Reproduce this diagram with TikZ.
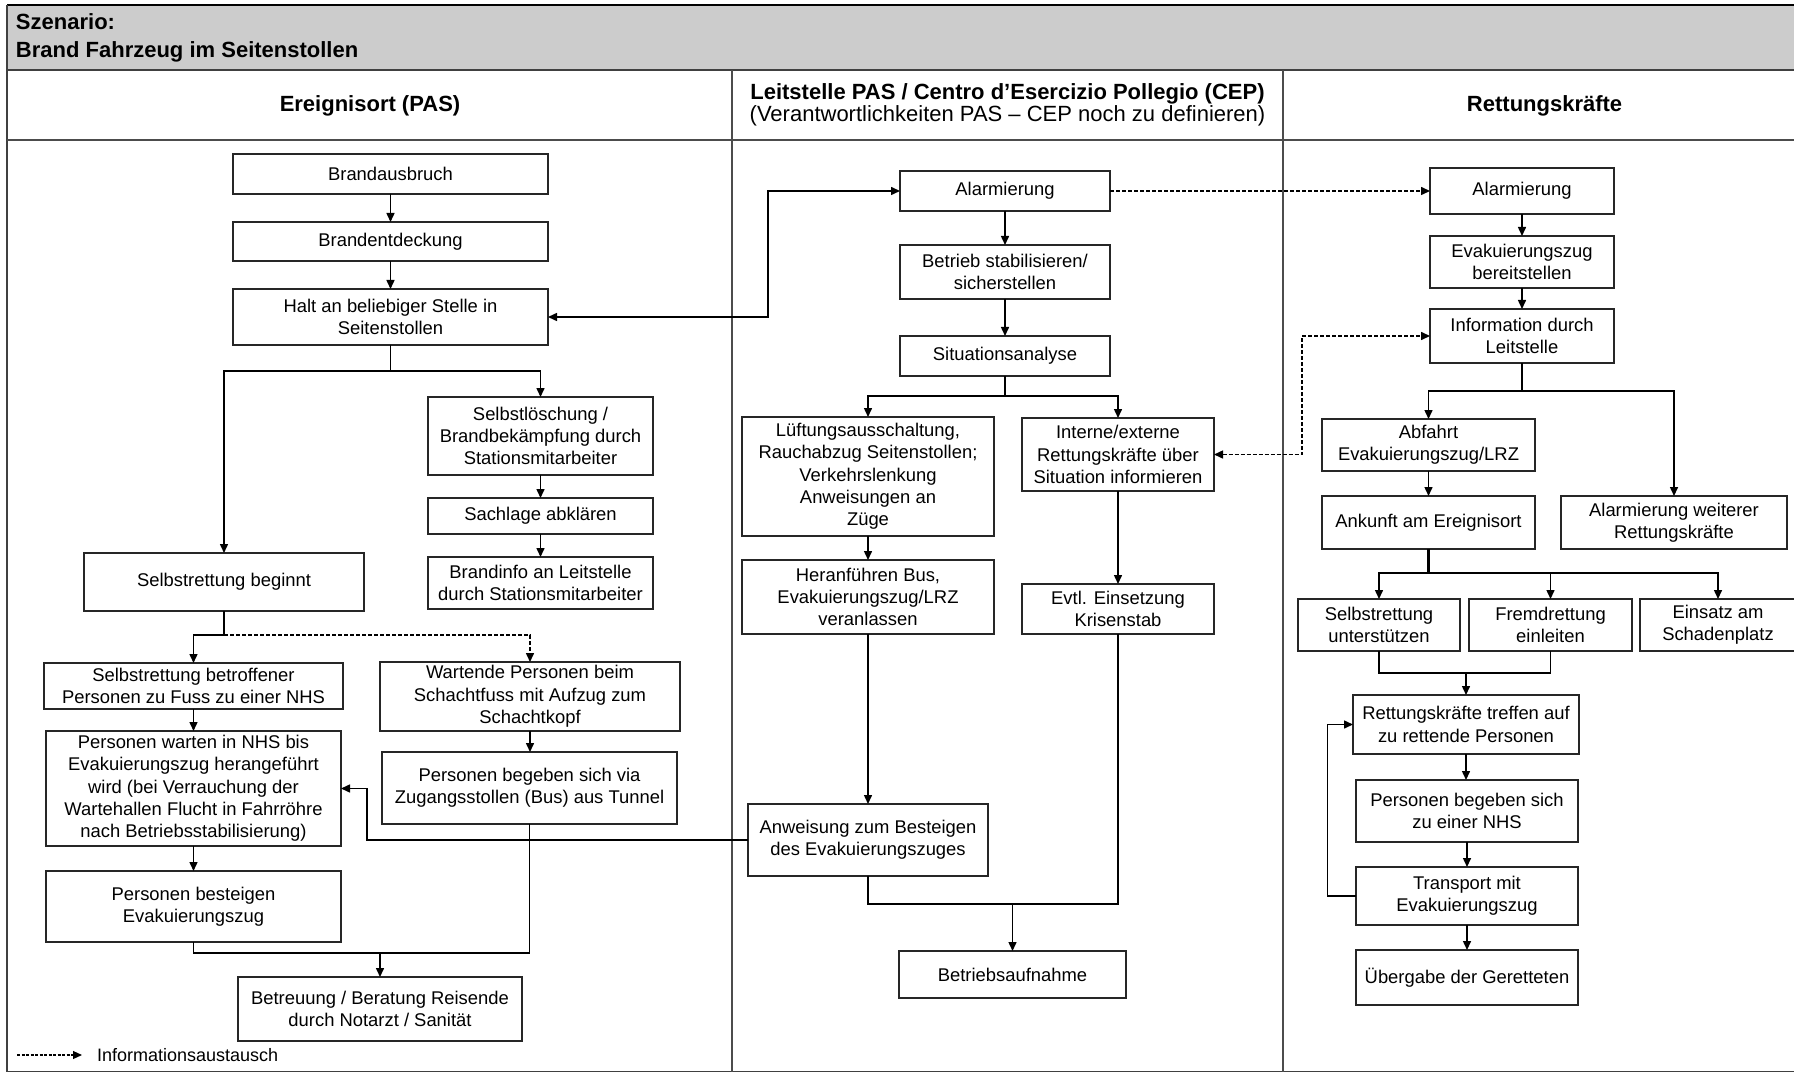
\documentclass[tikz,border=0pt]{standalone}
\usepackage{fontspec}
\setmainfont{Liberation Sans}
\usetikzlibrary{arrows.meta,calc}

\tikzset{
  box/.style={draw=black!85, line width=1.4pt, fill=white, align=center,
    inner sep=0pt, outer sep=0pt, font=\fontsize{18.4}{22.3}\selectfont},
  txt/.style={inner sep=0pt, outer sep=0pt},
  hdrfont/.style={font=\fontsize{22}{22.5}\selectfont},
  conn/.style={draw=black, line width=1.5pt},
  trunk/.style={conn, line width=2.2pt},
  arr/.style={conn, -{Triangle[length=9pt,width=8pt]}},
  arrboth/.style={conn, {Triangle[length=9pt,width=8pt]}-{Triangle[length=9pt,width=8pt]}},
  infoarr/.style={conn, dash pattern=on 4pt off 2pt, -{Triangle[length=9pt,width=8pt]}},
  infoboth/.style={conn, dash pattern=on 4pt off 2pt,
    {Triangle[length=9pt,width=8pt]}-{Triangle[length=9pt,width=8pt]}},
  frameline/.style={draw=black!75, line width=1.8pt},
  sepline/.style={draw=black!70, line width=1.5pt}
}

% box from left/top/right/bottom
\newcommand\mkbox[6]{%
  \node[box, minimum width={(#4)-(#2)}, minimum height={(#5)-(#3)}]
    (#1) at ({((#2)+(#4))/2},{((#3)+(#5))/2}) {#6};}

\begin{document}
\begin{tikzpicture}[x=1pt,y=-1pt]
\useasboundingbox (0,0) rectangle (1794,1075);

% ---------- frame and lanes ----------
\fill[black!20] (7,5) rectangle (1806,70);
\draw[line width=2.2pt, black] (7,5) -- (1806,5);
\draw[frameline] (7,5) -- (7,1071.5) -- (1806,1071.5);
\draw[frameline] (7,70) -- (1806,70);
\draw[sepline] (7,140) -- (1806,140);
\draw[sepline] (732,70) -- (732,1071.5);
\draw[sepline] (1283,70) -- (1283,1071.5);

% ---------- titles ----------
\node[txt, hdrfont, anchor=base west] (title1) at (16,30) {\bfseries Szenario:};
\node[txt, hdrfont, anchor=base west] (title2) at (16,57.5) {\bfseries Brand Fahrzeug im Seitenstollen};
\node[txt, hdrfont, anchor=base] (hA) at (370,111.5) {\bfseries Ereignisort (PAS)};
\node[txt, hdrfont, anchor=base] (hB1) at (1007.5,99.5) {\bfseries Leitstelle PAS / Centro d’Esercizio Pollegio (CEP)};
\node[txt, hdrfont, anchor=base] (hB2) at (1007.5,121.7) {(Verantwortlichkeiten PAS – CEP noch zu definieren)};
\node[txt, hdrfont, anchor=base] (hC) at (1544.6,111.5) {\bfseries Rettungskräfte};

% ---------- Ereignisort ----------
\mkbox{brand}{233}{154}{548}{194}{Brandausbruch}
\mkbox{entd}{233}{222}{548}{261}{Brandentdeckung}
\mkbox{halt}{233}{289}{548}{345}{Halt an beliebiger Stelle in\\Seitenstollen}
\mkbox{loesch}{428}{397}{653}{475}{Selbstlöschung /\\Brandbekämpfung durch\\Stationsmitarbeiter}
\mkbox{sach}{428}{498}{653}{534}{Sachlage abklären}
\mkbox{binfo}{428}{557}{653}{609}{Brandinfo an Leitstelle\\durch Stationsmitarbeiter}
\mkbox{sbeg}{84}{553}{364}{611}{Selbstrettung beginnt}
\mkbox{sbetr}{44}{663}{343}{709}{Selbstrettung betroffener\\Personen zu Fuss zu einer NHS}
\mkbox{wart}{380}{662}{680}{731}{Wartende Personen beim\\Schachtfuss mit Aufzug zum\\Schachtkopf}
\mkbox{pwart}{46}{731}{341}{846}{Personen warten in NHS bis\\Evakuierungszug herangeführt\\wird (bei Verrauchung der\\Wartehallen Flucht in Fahrröhre\\nach Betriebsstabilisierung)}
\mkbox{pbus}{382}{752}{677}{824}{Personen begeben sich via\\Zugangsstollen (Bus) aus Tunnel}
\mkbox{pbest}{46}{871}{341}{942}{Personen besteigen\\Evakuierungszug}
\mkbox{betr}{238}{977}{522}{1041}{Betreuung / Beratung Reisende\\durch Notarzt / Sanität}

% ---------- Leitstelle ----------
\mkbox{alarmL}{900}{171}{1110}{211}{Alarmierung}
\mkbox{stab}{900}{245}{1110}{299}{Betrieb stabilisieren/\\sicherstellen}
\mkbox{sit}{900}{336}{1110}{376}{Situationsanalyse}
\mkbox{luef}{742}{417}{994}{536}{Lüftungsausschaltung,\\Rauchabzug Seitenstollen;\\Verkehrslenkung\\Anweisungen an\\Züge}
\mkbox{intern}{1022}{418}{1214}{491}{Interne/externe\\Rettungskräfte über\\Situation informieren}
\mkbox{heran}{742}{560}{994}{634}{Heranführen Bus,\\Evakuierungszug/LRZ\\veranlassen}
\mkbox{evtl}{1022}{584}{1214}{634}{Evtl. Einsetzung\\Krisenstab}
\mkbox{anw}{748}{804}{988}{876}{Anweisung zum Besteigen\\des Evakuierungszuges}
\mkbox{baufn}{899}{951}{1126}{998}{Betriebsaufnahme}

% ---------- Rettungskräfte ----------
\mkbox{alarmR}{1430}{168}{1614}{214}{Alarmierung}
\mkbox{evber}{1430}{236}{1614}{288}{Evakuierungszug\\bereitstellen}
\mkbox{infoL}{1430}{309}{1614}{363}{Information durch\\Leitstelle}
\mkbox{abf}{1322}{419}{1535}{471}{Abfahrt\\Evakuierungszug/LRZ}
\mkbox{ank}{1322}{496}{1535}{549}{Ankunft am Ereignisort}
\mkbox{alweit}{1561}{496}{1787}{549}{Alarmierung weiterer\\Rettungskräfte}
\mkbox{sunt}{1298}{599}{1460}{651}{Selbstrettung\\unterstützen}
\mkbox{fremd}{1469}{599}{1632}{651}{Fremdrettung\\einleiten}
\mkbox{einsatz}{1640}{599}{1796}{651}{Einsatz am\\Schadenplatz}
\mkbox{rtreff}{1353}{695}{1579}{754}{Rettungskräfte treffen auf\\zu rettende Personen}
\mkbox{pnhs}{1356}{780}{1578}{842}{Personen begeben sich\\zu einer NHS}
\mkbox{transp}{1356}{867}{1578}{925}{Transport mit\\Evakuierungszug}
\mkbox{ueberg}{1356}{950}{1578}{1005}{Übergabe der Geretteten}

% ---------- connectors: Ereignisort ----------
\draw[arr] (brand.south) -- (entd.north);
\draw[arr] (entd.south) -- (halt.north);
\draw[arr] (halt.south) -- ++(0,26) -| (sbeg.north);
\draw[arr] (halt.south) -- ++(0,26) -| (loesch.north);
\draw[arr] (loesch.south) -- (sach.north);
\draw[arr] (sach.south) -- (binfo.north);
\draw[arrboth] (halt.east) -- ++(220,0) |- (alarmL.west);
\draw[arr] (sbeg.south) -- ++(0,24) -| (sbetr.north);
\draw[infoarr] ($(sbeg.south)+(0,24)$) -| (wart.north);
\draw[arr] (sbetr.south) -- (sbetr.south |- pwart.north);
\draw[arr] (wart.south) -- (wart.south |- pbus.north);
\draw[arr] (pwart.south) -- (pbest.north);
\draw[arr] (anw.west) -- ++(-381,0) |- (pwart.east);
\draw[conn] (pbest.south) -- ++(0,11) -| (pbus.south);
\draw[arr] ($(betr.north)+(0,-24)$) -- (betr.north);

% ---------- connectors: Leitstelle ----------
\draw[arr] (alarmL.south) -- (stab.north);
\draw[arr] (stab.south) -- (sit.north);
\draw[arr] (sit.south) -- ++(0,20) -| (luef.north);
\draw[arr] (sit.south) -- ++(0,20) -| (intern.north);
\draw[arr] (luef.south) -- (heran.north);
\draw[arr] (heran.south) -- (anw.north);
\draw[arr] (intern.south) -- (intern.south |- evtl.north);
\draw[conn] (anw.south) -- ++(0,28) -| (evtl.south);
\draw[arr] ($(baufn.north)+(0,-47)$) -- (baufn.north);
\draw[infoarr] (alarmL.east) -- (alarmL.east -| alarmR.west);
\draw[infoboth] (intern.east) -- ++(88,0) |- (infoL.west);

% ---------- connectors: Rettungskräfte ----------
\draw[arr] (alarmR.south) -- (evber.north);
\draw[arr] (evber.south) -- (infoL.north);
\draw[arr] (infoL.south) -- ++(0,28) -| (abf.north);
\draw[arr] (infoL.south) -- ++(0,28) -| (alweit.north);
\draw[arr] (abf.south) -- (abf.south |- ank.north);
\draw[trunk] (ank.south) -- ++(0,24);
\draw[arr] (ank.south) -- ++(0,24) -| (sunt.north);
\draw[arr] (ank.south) -- ++(0,24) -| (fremd.north);
\draw[arr] (ank.south) -- ++(0,24) -| (einsatz.north);
\draw[conn] (sunt.south) -- ++(0,22) -| (fremd.south);
\draw[arr] ($(rtreff.north)+(0,-22)$) -- (rtreff.north);
\draw[arr] (rtreff.south) -- (rtreff.south |- pnhs.north);
\draw[arr] (pnhs.south) -- (pnhs.south |- transp.north);
\draw[arr] (transp.south) -- (transp.south |- ueberg.north);
\draw[arr] (transp.west) -- ++(-28.5,0) |- (rtreff.west);

% ---------- legend ----------
\coordinate (lgA) at (17,1055);
\coordinate (lgB) at (82,1055);
\draw[infoarr, line width=1.2pt, dash pattern=on 3pt off 1.5pt] (lgA) -- (lgB);
\node[txt, anchor=west, font=\fontsize{18}{22}\selectfont] (lgtext) at (97,1055) {Informationsaustausch};
\end{tikzpicture}
\end{document}
